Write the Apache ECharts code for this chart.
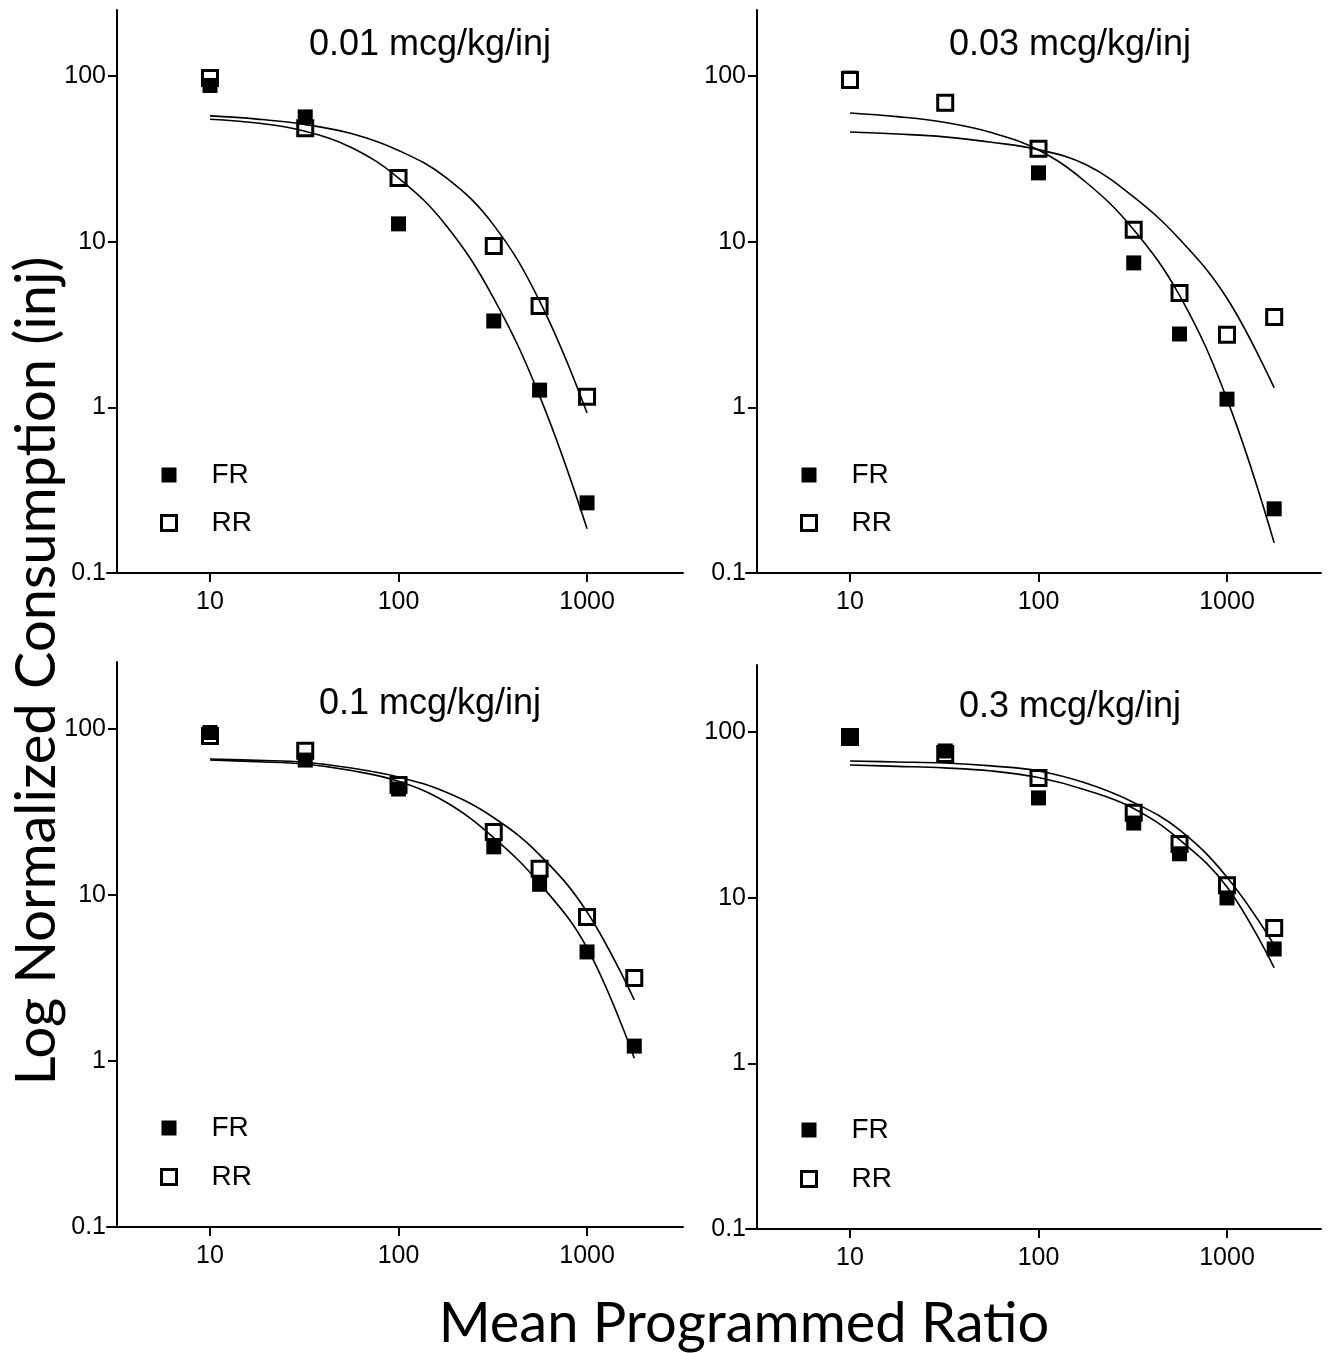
<!DOCTYPE html>
<html>
<head>
<meta charset="utf-8">
<script src="https://cdn.jsdelivr.net/npm/echarts@6/dist/echarts.min.js"></script>
<style>
html,body{margin:0;padding:0;background:#fff;}
#chart{width:1334px;height:1353px;}
</style>
</head>
<body>
<div id="chart"></div>
<script>
// ---------- data ----------
const panelTitles = ['0.01 mcg/kg/inj', '0.03 mcg/kg/inj', '0.1 mcg/kg/inj', '0.3 mcg/kg/inj'];
const xTickValues = [10, 100, 1000];
const yTickValues = [0.1, 1, 10, 100];

// programmed ratios (x)
const ratios6 = [10, 32, 100, 320, 560, 1000];
const ratios7 = [10, 32, 100, 320, 560, 1000, 1780];

// observed points
const fr001 = [87.6, 56.6, 12.8, 3.32, 1.27, 0.265];
const rr001 = [97.3, 48.3, 24.2, 9.42, 4.09, 1.16];
const fr003 = [97, 68, 26.0, 7.44, 2.77, 1.12, 0.244];
const rr003 = [94.6, 68.8, 36.3, 11.8, 4.90, 2.74, 3.51];
const fr01 = [95.3, 65.0, 43.5, 19.5, 11.6, 4.54, 1.23];
const rr01 = [90.7, 74.0, 46.0, 24.0, 14.4, 7.37, 3.16];
const fr03 = [93.3, 76.8, 40.0, 28.2, 18.4, 9.96, 4.90];
const rr03 = [93.3, 73.7, 52.7, 32.5, 21.1, 11.9, 6.56];

// fitted demand curves (quarter-decade steps)
const fitX9 = [10, 17.8, 31.6, 56.2, 100, 178, 316, 562, 1000];
const fitX10 = [10, 17.8, 31.6, 56.2, 100, 178, 316, 562, 1000, 1780];
const frFit001 = [54.8, 52.0, 46.5, 37.0, 24.2, 12.6, 4.66, 1.16, 0.185];
const rrFit001 = [57.4, 54.9, 51.0, 44.9, 35.5, 24.4, 12.8, 4.35, 0.925];
const frFit003 = [59.8, 56.8, 52.5, 45.5, 35.7, 22.9, 12.0, 4.7, 1.12, 0.152];
const rrFit003 = [45.9, 44.6, 42.9, 39.8, 35.9, 29.2, 18.8, 10.3, 4.55, 1.31];
const frFit01 = [65.0, 63.5, 61.5, 56.2, 48.4, 36.3, 22.4, 11.7, 4.8, 1.04];
const rrFit01 = [66.0, 64.7, 63.1, 58.2, 51.4, 41.7, 29.5, 17.4, 7.9, 2.33];
const frFit03 = [63.2, 62.0, 60.7, 58.2, 53.1, 44.7, 34.8, 22.3, 11.6, 3.77];
const rrFit03 = [66.8, 65.9, 65.0, 62.4, 58.2, 49.2, 37.8, 25.6, 13.3, 5.18];

// ---------- layout ----------
const panels = [
  {grid:{left:107, top:10, width:576, height:563}, xMin:2.842, xMax:3228, yMax:250, yOff:-10,
   fr:fr001, rr:rr001, x:ratios6, fitX:fitX9, frFit:frFit001, rrFit:rrFit001, frTop:true,
   title:{x:430, y:27}, legend:{left:160, top:460, gap:18}},
  {grid:{left:746, top:10, width:575, height:563}, xMin:2.807, xMax:3153, yMax:250, yOff:-11,
   fr:fr003, rr:rr003, x:ratios7, fitX:fitX10, frFit:frFit003, rrFit:rrFit003, frTop:false,
   title:{x:1070, y:27}, legend:{left:800, top:460, gap:18}},
  {grid:{left:107, top:662, width:576, height:565}, xMin:2.842, xMax:3228, yMax:253.3, yOff:-10,
   fr:fr01, rr:rr01, x:ratios7, fitX:fitX10, frFit:frFit01, rrFit:rrFit01, frTop:true,
   title:{x:430, y:686}, legend:{left:160, top:1113, gap:19}},
  {grid:{left:746, top:665, width:575, height:564}, xMin:2.807, xMax:3153, yMax:253.7, yOff:-11,
   fr:fr03, rr:rr03, x:ratios7, fitX:fitX10, frFit:frFit03, rrFit:rrFit03, frTop:true,
   title:{x:1070, y:689}, legend:{left:800, top:1115, gap:19}}
];

const tickFont = 'Liberation Sans, Arial, sans-serif';
const axisLine = {show:true, lineStyle:{color:'#000', width:2}};
const axisTickStyle = {color:'#000', width:2};

const zip = (xs, ys) => xs.map((x, i) => [x, ys[i]]);

const option = {
  animation:false,
  backgroundColor:'#fff',
  grid:[], xAxis:[], yAxis:[], series:[], title:[], legend:[],
  graphic:[
    {type:'text', x:744, y:1324, style:{text:'Mean Programmed Ratio', align:'center', verticalAlign:'middle',
      font:'56px Lato, "Open Sans", sans-serif', fill:'#000'}},
    {type:'text', x:37, y:671, rotation:Math.PI/2, style:{text:'Log Normalized Consumption (inj)', align:'center', verticalAlign:'middle',
      font:'56px Lato, "Open Sans", sans-serif', fill:'#000'}}
  ]
};

panels.forEach((p, i) => {
  option.grid.push(Object.assign({containLabel:false}, p.grid));
  option.xAxis.push({
    type:'log', logBase:10, gridIndex:i, min:p.xMin, max:p.xMax,
    axisLine:axisLine, splitLine:{show:false}, minorTick:{show:false},
    axisTick:{show:true, length:9, lineStyle:axisTickStyle, customValues:xTickValues},
    axisLabel:{customValues:xTickValues, fontSize:25, color:'#000', margin:17, fontFamily:tickFont,
      formatter:v => String(v)}
  });
  option.yAxis.push({
    type:'log', logBase:10, gridIndex:i, min:0.1, max:p.yMax, offset:p.yOff,
    axisLine:axisLine, splitLine:{show:false}, minorTick:{show:false},
    axisTick:{show:true, length:9, lineStyle:axisTickStyle, customValues:yTickValues},
    axisLabel:{customValues:yTickValues, fontSize:25, color:'#000', margin:11, fontFamily:tickFont,
      formatter:v => String(v)}
  });
  const frZ = p.frTop ? 4 : 3, rrZ = p.frTop ? 3 : 4;
  option.series.push({
    name:'RR', type:'scatter', xAxisIndex:i, yAxisIndex:i, symbol:'rect', symbolSize:15, z:rrZ,
    itemStyle:{color:'#fff', borderColor:'#000', borderWidth:3, opacity:1},
    data:zip(p.x, p.rr), emphasis:{disabled:true}, silent:true
  });
  option.series.push({
    name:'FR', type:'scatter', xAxisIndex:i, yAxisIndex:i, symbol:'rect', symbolSize:15, z:frZ,
    itemStyle:{color:'#000', borderWidth:0, opacity:1},
    data:zip(p.x, p.fr), emphasis:{disabled:true}, silent:true
  });
  option.series.push({
    name:'FR fit', type:'line', xAxisIndex:i, yAxisIndex:i, smooth:0.4, showSymbol:false, symbol:'none', z:6,
    lineStyle:{color:'#000', width:1.6}, data:zip(p.fitX, p.frFit), silent:true
  });
  option.series.push({
    name:'RR fit', type:'line', xAxisIndex:i, yAxisIndex:i, smooth:0.4, showSymbol:false, symbol:'none', z:6,
    lineStyle:{color:'#000', width:1.6}, data:zip(p.fitX, p.rrFit), silent:true
  });
  option.title.push({
    text:panelTitles[i], left:p.title.x, top:p.title.y, textAlign:'center', padding:0,
    textStyle:{fontSize:36, fontWeight:'normal', color:'#000', fontFamily:tickFont}
  });
  option.legend.push({
    left:p.legend.left, top:p.legend.top, orient:'vertical', padding:0,
    itemWidth:15, itemHeight:15, itemGap:p.legend.gap, selectedMode:false,
    textStyle:{fontSize:28, lineHeight:30, color:'#000', fontFamily:tickFont, padding:[0,0,0,30]},
    data:[
      {name:'FR', icon:'rect', itemStyle:{color:'#000', borderWidth:0, opacity:1}},
      {name:'RR', icon:'rect', itemStyle:{color:'#fff', borderColor:'#000', borderWidth:3, opacity:1}}
    ]
  });
});

const chart = echarts.init(document.getElementById('chart'), null, {renderer:'canvas'});
chart.setOption(option);
</script>
</body>
</html>
